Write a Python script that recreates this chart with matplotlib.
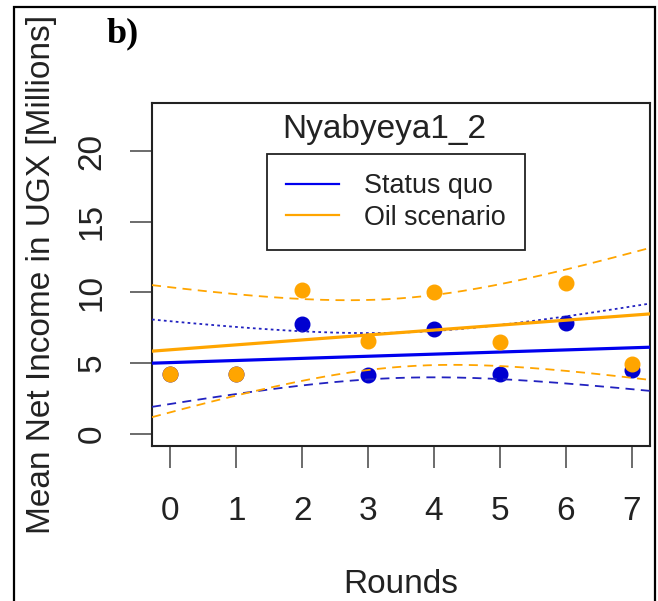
import numpy as np
import matplotlib.pyplot as plt
from matplotlib.patches import Rectangle

plt.rcParams['font.family'] = ['Liberation Sans', 'DejaVu Sans']

rounds = [0, 1, 2, 3, 4, 5, 6, 7]
status_quo = [4.24, 4.24, 7.75, 4.17, 7.40, 4.24, 7.82, 4.52]
oil_scenario = [4.24, 4.24, 10.18, 6.52, 9.99, 6.45, 10.65, 4.95]
series_names = ["Status quo", "Oil scenario"]
site_name = "Nyabyeya1_2"
T_CRIT = 2.447  # 95% two-sided, 6 degrees of freedom

BLUE = "#0000ee"
ORANGE = "#ffa500"


def fit_with_ci(x, y, xs):
  """Least squares line with 95% confidence band for the mean."""
  x = np.asarray(x, float)
  y = np.asarray(y, float)
  slope, intercept = np.polyfit(x, y, 1)
  resid = y - (slope * x + intercept)
  s = np.sqrt(np.sum(resid ** 2) / (len(x) - 2))
  sxx = np.sum((x - x.mean()) ** 2)
  se = s * np.sqrt(1.0 / len(x) + (xs - x.mean()) ** 2 / sxx)
  fit = slope * xs + intercept
  return fit, fit - T_CRIT * se, fit + T_CRIT * se


W, H = 658, 601
fig = plt.figure(figsize=(W / 100, H / 100), dpi=100)
ax = fig.add_axes([152 / W, 1 - 446 / H, (650 - 152) / W, (446 - 103) / H])

xlim = (-0.28, 7.28)
xs = np.linspace(xlim[0], xlim[1], 200)

fit_b, lo_b, hi_b = fit_with_ci(rounds, status_quo, xs)
fit_o, lo_o, hi_o = fit_with_ci(rounds, oil_scenario, xs)

ax.plot(rounds, status_quo, 'o', color="#0000d0", ms=10.5, zorder=3)
ax.plot(xs, fit_b, color=BLUE, lw=2.3, zorder=4)
ax.plot(xs, hi_b, color="#2222c0", lw=1.3, dashes=(1.5, 1.8), zorder=4)
ax.plot(xs, lo_b, color="#2222c0", lw=1.3, dashes=(5, 3.5), zorder=4)

ax.plot(rounds, oil_scenario, 'o', color=ORANGE, ms=10.5, zorder=5)
ax.plot(xs, fit_o, color=ORANGE, lw=2.3, zorder=6)
ax.plot(xs, hi_o, color=ORANGE, lw=1.3, dashes=(5, 3.5), zorder=6)
ax.plot(xs, lo_o, color=ORANGE, lw=1.3, dashes=(5, 3.5), zorder=6)

ax.set_xlim(*xlim)
ax.set_ylim(-0.88, 23.4)
ax.set_xticks(rounds)
ax.set_yticks([0, 5, 10, 15, 20])
ax.tick_params(axis='both', length=16, width=1.1, color='#444444',
               labelsize=24, labelcolor='#222222')
ax.tick_params(axis='x', pad=20)
ax.tick_params(axis='y', pad=16)
for lab in ax.get_yticklabels():
  lab.set_rotation(90)
  lab.set_va('center')
for sp in ax.spines.values():
  sp.set_linewidth(1.5)
  sp.set_color('#222222')

ax.set_xlabel("Rounds", fontsize=24, color='#222222', labelpad=30.5)
ax.set_ylabel("Mean Net Income in UGX [Millions]", fontsize=24,
              color='#222222', labelpad=14)

fig.text(384 / W, 1 - 138 / H, site_name, fontsize=24, color='#222222',
         ha='center', va='baseline')

handles = [plt.Line2D([], [], color=BLUE, lw=1.6),
           plt.Line2D([], [], color=ORANGE, lw=1.6)]
leg = ax.legend(handles, series_names, loc='upper center',
                bbox_to_anchor=(396 / W, 1 - 154 / H),
                bbox_transform=fig.transFigure, fontsize=19.4,
                frameon=True, fancybox=False, framealpha=1,
                edgecolor='#222222', handlelength=1.95, handletextpad=0.95,
                labelspacing=0.2, borderpad=0.72, borderaxespad=0)
leg.get_frame().set_linewidth(1.3)
for t in leg.get_texts():
  t.set_color('#222222')

fig.text(107 / W, 1 - 42 / H, "b)", fontsize=26, fontweight='bold',
         family='Liberation Serif', ha='left', va='baseline')

# frame around the whole panel
fig.patches.append(Rectangle((14 / W, -0.05), (655 - 14) / W, 1.05 - 7 / H,
                             transform=fig.transFigure, fill=False,
                             lw=1.6, edgecolor='black', clip_on=False))

fig.savefig("out.png", dpi=100)
